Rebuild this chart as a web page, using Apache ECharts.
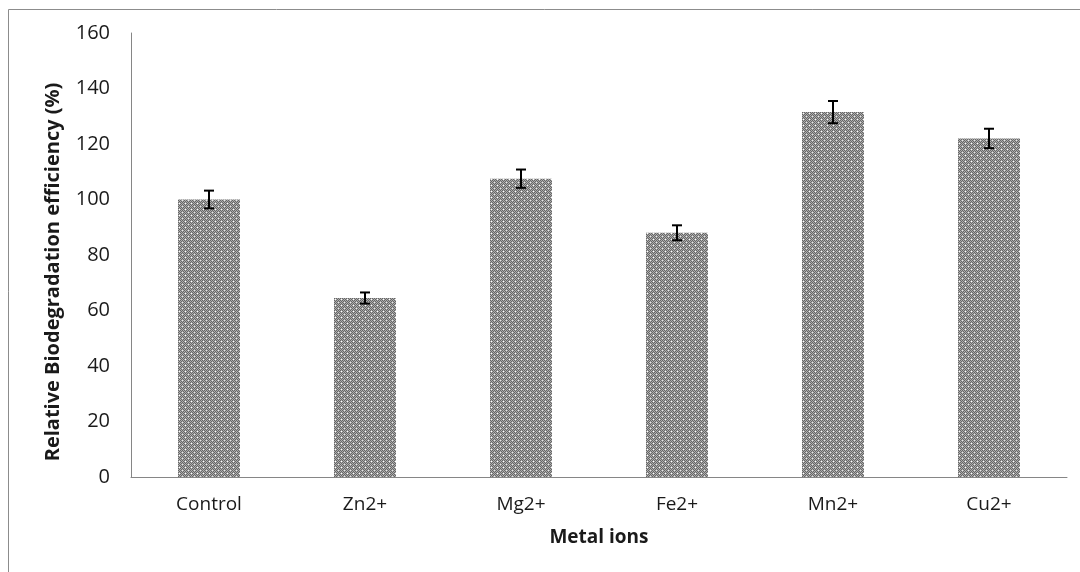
<!DOCTYPE html>
<html>
<head>
<meta charset="utf-8">
<script src="https://cdn.jsdelivr.net/npm/echarts@6/dist/echarts.min.js"></script>
<style>html,body{margin:0;padding:0;background:#fff;}#c{width:1080px;height:572px;}</style>
</head>
<body>
<div id="c"></div>
<script>
const categories = ['Control', 'Zn2+', 'Mg2+', 'Fe2+', 'Mn2+', 'Cu2+'];
const values = [100, 64.5, 107.5, 88, 131.5, 122];
const errors = [3.2, 2, 3.3, 2.7, 4, 3.5];
const yTicks = [0, 20, 40, 60, 80, 100, 120, 140, 160];
const yTitle = 'Relative Biodegradation efficiency (%)';
const xTitle = 'Metal ions';

function makePattern() {
  const s = 12;
  const cv = document.createElement('canvas');
  cv.width = s; cv.height = s;
  const ctx = cv.getContext('2d');
  for (let y = 0; y < s; y++) {
    for (let x = 0; x < s; x++) {
      ctx.fillStyle = ((x + y) % 2 === 0) ? '#666666' : '#adadad';
      ctx.fillRect(x, y, 1, 1);
    }
  }
  ctx.fillStyle = '#e6e6e6';
  [[2,2],[8,8],[2,8],[8,2]].forEach(function(p){ ctx.fillRect(p[0], p[1], 1, 1); });
  ctx.fillStyle = '#ffffff';
  [[5,5],[11,11],[5,11],[11,5]].forEach(function(p){ ctx.fillRect(p[0], p[1], 1, 1); });
  return cv;
}

const chart = echarts.init(document.getElementById('c'), null, {renderer: 'canvas'});
const font = '"Open Sans", "Noto Sans", sans-serif';
chart.setOption({
  animation: false,
  backgroundColor: '#ffffff',
  graphic: [{
    type: 'rect', silent: true, z: -1,
    shape: {x: 8.5, y: 9.5, width: 1200, height: 700},
    style: {fill: 'none', stroke: '#8c8c8c', lineWidth: 1}
  }, {
    type: 'text', silent: true,
    x: 53, y: 272, rotation: Math.PI / 2,
    style: {text: yTitle, fill: '#1a1a1a', font: 'bold 20px ' + font, align: 'center', verticalAlign: 'middle'}
  }],
  grid: {left: 131, right: 13, top: 33, bottom: 95},
  xAxis: {
    type: 'category',
    data: categories,
    axisLine: {lineStyle: {color: '#868686', width: 1}},
    axisTick: {show: false},
    axisLabel: {color: '#1a1a1a', fontSize: 19, fontFamily: font, margin: 18},
    name: xTitle,
    nameLocation: 'middle',
    nameGap: 51,
    nameTextStyle: {color: '#1a1a1a', fontSize: 19, fontWeight: 'bold', fontFamily: font}
  },
  yAxis: {
    type: 'value',
    min: yTicks[0], max: yTicks[yTicks.length - 1], interval: 20,
    axisLine: {show: true, lineStyle: {color: '#868686', width: 1}},
    axisTick: {show: false},
    splitLine: {show: false},
    axisLabel: {color: '#1a1a1a', fontSize: 20, fontFamily: font, margin: 21}
  },
  series: [{
    type: 'bar',
    data: values,
    barWidth: 62,
    itemStyle: {color: {image: makePattern(), repeat: 'repeat'}}
  }, {
    type: 'custom',
    data: values.map(function(v, i){ return [i, v - errors[i], v + errors[i]]; }),
    z: 10,
    renderItem: function(params, api) {
      const x = api.value(0);
      const lo = api.coord([x, api.value(1)]);
      const hi = api.coord([x, api.value(2)]);
      const hw = 5;
      const st = {stroke: '#000000', lineWidth: 2};
      return {type: 'group', children: [
        {type: 'line', shape: {x1: hi[0], y1: hi[1], x2: lo[0], y2: lo[1]}, style: st},
        {type: 'line', shape: {x1: hi[0]-hw, y1: hi[1], x2: hi[0]+hw, y2: hi[1]}, style: st},
        {type: 'line', shape: {x1: lo[0]-hw, y1: lo[1], x2: lo[0]+hw, y2: lo[1]}, style: st}
      ]};
    }
  }]
});
</script>
</body>
</html>
